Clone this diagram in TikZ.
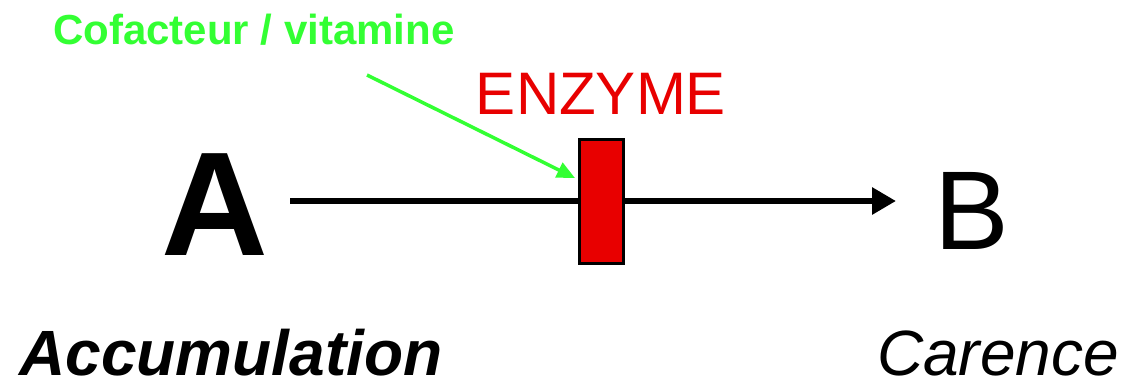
\documentclass[tikz,border=0pt]{standalone}
\usepackage{fontspec}
\setmainfont{Liberation Sans}
\usetikzlibrary{arrows.meta}
\definecolor{enzred}{HTML}{E80000}
\definecolor{cofgreen}{HTML}{33FF33}
\begin{document}
\begin{tikzpicture}[x=1pt,y=-1pt,
  lbl/.style={inner sep=0pt, anchor=center},
  enzbox/.style={draw=black, line width=3pt, fill=enzred, minimum width=44pt, minimum height=124pt, inner sep=0pt},
  mainarrow/.style={line width=6.5pt, -{Triangle[length=24pt,width=26pt]}},
  cofarrow/.style={draw=cofgreen, line width=3.5pt, -{Triangle[length=18pt,width=16pt]}}]
\useasboundingbox (0,0) rectangle (1122,380);
\node[lbl] (A) at (215,205) {\fontsize{148}{148}\selectfont\bfseries A};
\node[lbl] (B) at (972,211) {\fontsize{112}{112}\selectfont B};
\coordinate (Astart) at (290,201);
\coordinate (Bend) at (896,201);
\draw[mainarrow] (Astart) -- (Bend);
\node[enzbox] (E) at (601.5,201.5) {};
\node[lbl, text=enzred] (enz) at (601,94) {\fontsize{60}{60}\selectfont ENZYME};
\node[lbl, text=cofgreen] (cof) at (254,30) {\fontsize{42}{42}\selectfont\bfseries Cofacteur / vitamine};
\coordinate (cstart) at (367,75);
\coordinate (cend) at (575,178);
\draw[cofarrow] (cstart) -- (cend);
\node[lbl, anchor=base, text depth=0pt] (acc) at (231,375) {\fontsize{64}{64}\selectfont\bfseries\itshape Accumulation};
\node[lbl, anchor=base, text depth=0pt] (car) at (998,375) {\fontsize{64}{64}\selectfont\itshape Carence};
\end{tikzpicture}
\end{document}
